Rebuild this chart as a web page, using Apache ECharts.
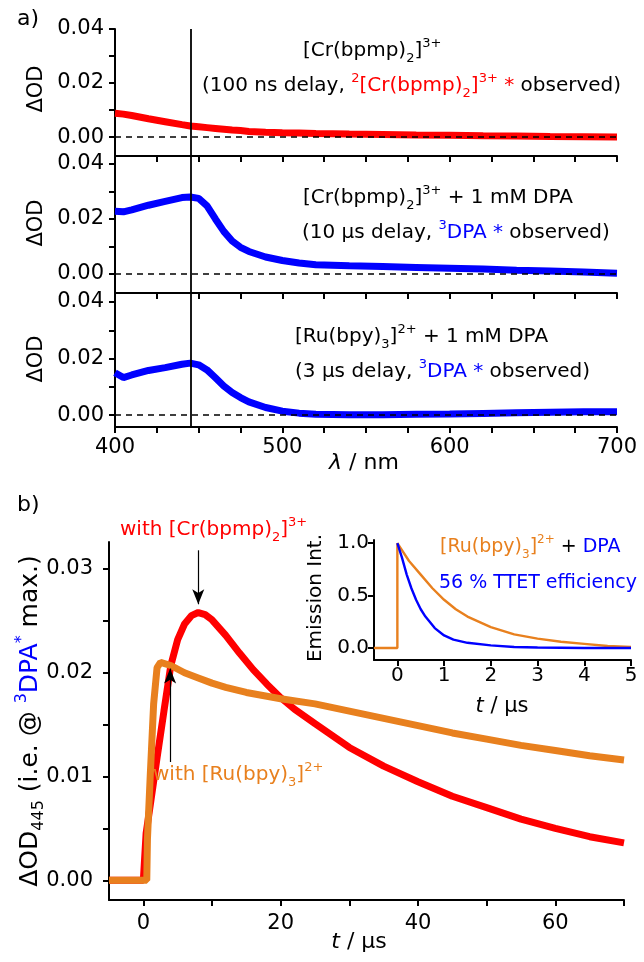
<!DOCTYPE html>
<html>
<head>
<meta charset="utf-8">
<script src="https://cdn.jsdelivr.net/npm/echarts@6/dist/echarts.min.js"></script>
<style>
  html, body { margin: 0; padding: 0; background: #fff; }
  #main { width: 644px; height: 962px; }
</style>
</head>
<body>
<div id="main"></div>
<script>
// ---- data ----
// panel a: transient absorption spectra (wavelength / nm)
const wl = [400, 405, 410, 420, 430, 440, 445, 450, 455, 460, 465, 470, 475, 480, 490, 500, 510, 520, 540, 560, 580, 600, 620, 640, 660, 680, 700];
const odCr = [0.0088, 0.0085, 0.0080, 0.0068, 0.0057, 0.0046, 0.0041, 0.0038, 0.0035, 0.0032, 0.0029, 0.0026, 0.0024, 0.0021, 0.0018, 0.0016, 0.0015, 0.0013, 0.0011, 0.0010, 0.0008, 0.0007, 0.0005, 0.0004, 0.0002, 0.0001, 0.0000];
const odCrDPA = [0.0228, 0.0226, 0.0233, 0.0250, 0.0264, 0.0278, 0.0280, 0.0275, 0.0248, 0.0200, 0.0155, 0.0120, 0.0097, 0.0082, 0.0062, 0.0049, 0.0040, 0.0034, 0.0030, 0.0027, 0.0024, 0.0021, 0.0018, 0.0014, 0.0011, 0.0007, 0.0003];
const odRuDPA = [0.0150, 0.0133, 0.0142, 0.0158, 0.0168, 0.0180, 0.0184, 0.0178, 0.0160, 0.0132, 0.0103, 0.0080, 0.0062, 0.0047, 0.0027, 0.0014, 0.0007, 0.0003, 0.0001, 0.0001, 0.0003, 0.0004, 0.0006, 0.0008, 0.0010, 0.0012, 0.0012];

// panel b: kinetics at 445 nm (t / us)
const tCr = [-5, -2, 0, 0.2, 0.4, 1, 2, 3, 4, 5, 6, 7, 8, 9, 10, 12, 14, 16, 18, 20, 22, 25, 30, 35, 40, 45, 50, 55, 60, 65, 70];
const odTCr = [0, 0, 0, 0, 0.0045, 0.0072, 0.0118, 0.0163, 0.0207, 0.0232, 0.0247, 0.0255, 0.0258, 0.0256, 0.0251, 0.0236, 0.0219, 0.0203, 0.0189, 0.0176, 0.0165, 0.0151, 0.0128, 0.0110, 0.0095, 0.0081, 0.0070, 0.0059, 0.0050, 0.0042, 0.0036];
const tRu = [-5, -2, 0, 0.5, 0.6, 1, 1.5, 2, 2.5, 4, 6, 8, 10, 12, 15, 20, 25, 30, 35, 40, 45, 50, 55, 60, 65, 70];
const odTRu = [0, 0, 0, 0, 0.0040, 0.0100, 0.0170, 0.0205, 0.0210, 0.0207, 0.0200, 0.0195, 0.0190, 0.0186, 0.0181, 0.0175, 0.0170, 0.0163, 0.0156, 0.0149, 0.0142, 0.0136, 0.0130, 0.0125, 0.0120, 0.0116];

// inset: emission decays
const tEmRu = [-0.5, 0, 0, 0.25, 0.5, 0.75, 1, 1.25, 1.5, 2, 2.5, 3, 3.5, 4, 4.5, 5];
const emRu = [0, 0, 1.0, 0.83, 0.70, 0.57, 0.46, 0.37, 0.30, 0.20, 0.13, 0.09, 0.06, 0.04, 0.02, 0.01];
const tEmDPA = [0, 0.1, 0.2, 0.3, 0.4, 0.5, 0.6, 0.8, 1.0, 1.2, 1.5, 2, 2.5, 3, 4, 5];
const emDPA = [1.0, 0.86, 0.70, 0.57, 0.46, 0.37, 0.30, 0.19, 0.12, 0.08, 0.05, 0.025, 0.01, 0.005, 0, 0];

// ticks and labels
const odTicksA = [0, 0.01, 0.02, 0.03, 0.04];
const odLabelsA = [0, 0.02, 0.04];
const wlTicks = [400, 425, 450, 475, 500, 525, 550, 575, 600, 625, 650, 675, 700];
const wlLabels = [400, 500, 600, 700];
const tTicks = [0, 10, 20, 30, 40, 50, 60, 70];
const tLabels = [0, 20, 40, 60];
const odTicksB = [0, 0.005, 0.01, 0.015, 0.02, 0.025, 0.03];
const odLabelsB = [0, 0.01, 0.02, 0.03];
const tInTicks = [0, 1, 2, 3, 4, 5];
const emTicks = [0, 0.5, 1.0];

const FONT = 'DejaVu Sans';
const RED = '#ff0000', BLUE = '#0000ff', ORANGE = '#e8801e';

var chart = echarts.init(document.getElementById('main'));

function zip(xs, ys) {
  return xs.map((x, i) => [x, ys[i]]);
}

// rich styles: n/r/b/o colour, suffix p = superscript, d = subscript, i = italic
function rich(size) {
  const s = Math.round(size * 0.65);
  const out = {};
  [['n', '#000'], ['r', RED], ['b', BLUE], ['o', ORANGE]].forEach(([k, c]) => {
    out[k] = {fontSize: size, fontFamily: FONT, fill: c, color: c, lineHeight: size + 8};
    out[k + 'i'] = {fontSize: size, fontFamily: FONT, fill: c, color: c, fontStyle: 'italic', lineHeight: size + 8};
    out[k + 'p'] = {fontSize: s, fontFamily: FONT, fill: c, color: c, lineHeight: s + 3, verticalAlign: 'top'};
    out[k + 'd'] = {fontSize: s, fontFamily: FONT, fill: c, color: c, lineHeight: s + 3, verticalAlign: 'bottom'};
  });
  return out;
}

function txt(x, y, text, size, align, rotation) {
  return {
    type: 'text', x: x, y: y, rotation: rotation || 0, z: 100, silent: true,
    style: {text: text, rich: rich(size), fontSize: size, fontFamily: FONT, fill: '#000',
      align: align || 'left', verticalAlign: 'middle'}
  };
}

function axis(gridIndex, min, max, ticks, labels, fmt, margin, size) {
  return {
    type: 'value', gridIndex: gridIndex, min: min, max: max,
    axisLine: {show: true, onZero: false, lineStyle: {color: '#000', width: 2}},
    axisTick: {show: true, customValues: ticks, length: 6, lineStyle: {color: '#000', width: 2}},
    axisLabel: {show: labels.length > 0, customValues: labels, formatter: fmt, margin: margin,
      color: '#000', fontFamily: FONT, fontSize: size || 21},
    splitLine: {show: false}
  };
}

const f2 = v => v.toFixed(2);
const f1 = v => v.toFixed(1);
const f0 = v => String(Math.round(v));

// vertical line at 445 nm and dashed zero line of each spectrum
function refLines() {
  return {
    silent: true, symbol: 'none', animation: false,
    label: {show: false},
    data: [
      {xAxis: 445, lineStyle: {color: '#000', width: 1.8, type: 'solid'}},
      {yAxis: 0, lineStyle: {color: '#000', width: 1.6, type: [6, 5]}}
    ]
  };
}

function spec(i, data, color) {
  return {
    type: 'line', xAxisIndex: i, yAxisIndex: i, data: data,
    showSymbol: false, symbol: 'none', silent: true,
    lineStyle: {color: color, width: 7}, markLine: refLines()
  };
}

var option = {
  animation: false,
  backgroundColor: '#fff',
  grid: [
    {left: 115, top: 29, width: 502, height: 127, outerBoundsMode: 'none'},
    {left: 115, top: 156, width: 502, height: 137, outerBoundsMode: 'none'},
    {left: 115, top: 293, width: 502, height: 134, outerBoundsMode: 'none'},
    {left: 109, top: 542, width: 515, height: 358, outerBoundsMode: 'none'},
    {left: 374, top: 540, width: 257, height: 120, outerBoundsMode: 'none'}
  ],
  xAxis: [
    axis(0, 400, 700, wlTicks, [], f0, 10),
    axis(1, 400, 700, wlTicks, [], f0, 10),
    axis(2, 400, 700, wlTicks, wlLabels, f0, 10),
    axis(3, -5, 70, tTicks, tLabels, f0, 13),
    axis(4, -0.5, 5, tInTicks, tInTicks, f0, 6, 20)
  ],
  yAxis: [
    axis(0, -0.0070, 0.040, odTicksA, odLabelsA, f2, 11),
    axis(1, -0.0069, 0.0429, odTicksA, odLabelsA, f2, 11),
    axis(2, -0.0042, 0.0432, odTicksA, odLabelsA, f2, 11),
    axis(3, -0.0019, 0.0326, odTicksB, odLabelsB, f2, 16),
    axis(4, -0.114, 1.03, emTicks, emTicks, f1, 5, 20)
  ],
  series: [
    spec(0, zip(wl, odCr), RED),
    spec(1, zip(wl, odCrDPA), BLUE),
    spec(2, zip(wl, odRuDPA), BLUE),
    {
      type: 'line', xAxisIndex: 3, yAxisIndex: 3, data: zip(tCr, odTCr),
      showSymbol: false, symbol: 'none', silent: true, lineStyle: {color: RED, width: 7}
    },
    {
      type: 'line', xAxisIndex: 3, yAxisIndex: 3, data: zip(tRu, odTRu),
      showSymbol: false, symbol: 'none', silent: true, lineStyle: {color: ORANGE, width: 7},
      markLine: {
        silent: true, animation: false, symbol: ['none', 'arrow'], symbolSize: [9, 15],
        label: {show: false},
        lineStyle: {color: '#000', width: 1.2, type: 'solid'},
        data: [
          [{coord: [8, 0.0318]}, {coord: [8, 0.0266]}],
          [{coord: [3.9, 0.0114]}, {coord: [3.9, 0.0204]}]
        ]
      }
    },
    {
      type: 'line', xAxisIndex: 4, yAxisIndex: 4, data: zip(tEmRu, emRu),
      showSymbol: false, symbol: 'none', silent: true, lineStyle: {color: ORANGE, width: 2.4}
    },
    {
      type: 'line', xAxisIndex: 4, yAxisIndex: 4, data: zip(tEmDPA, emDPA),
      showSymbol: false, symbol: 'none', silent: true, lineStyle: {color: BLUE, width: 2.4}
    }
  ],
  graphic: [
    txt(17, 19, '{n|a)}', 22),
    txt(17, 505, '{n|b)}', 22),
    // panel a
    txt(37, 89, '{n|ΔOD}', 21, 'center', Math.PI / 2),
    txt(37, 223, '{n|ΔOD}', 21, 'center', Math.PI / 2),
    txt(37, 359, '{n|ΔOD}', 21, 'center', Math.PI / 2),
    txt(303, 51, '{n|[Cr(bpmp)}{nd|2}{n|]}{np|3+}', 20),
    txt(202, 86, '{n|(100 ns delay, }{rp|2}{r|[Cr(bpmp)}{rd|2}{r|]}{rp|3+}{r| *}{n| observed)}', 20),
    txt(303, 198, '{n|[Cr(bpmp)}{nd|2}{n|]}{np|3+}{n| + 1 mM DPA}', 20),
    txt(302, 233, '{n|(10 μs delay, }{bp|3}{b|DPA *}{n| observed)}', 20),
    txt(295, 337, '{n|[Ru(bpy)}{nd|3}{n|]}{np|2+}{n| + 1 mM DPA}', 20),
    txt(295, 372, '{n|(3 μs delay, }{bp|3}{b|DPA *}{n| observed)}', 20),
    txt(364, 463, '{ni|λ}{n| / nm}', 22, 'center'),
    // panel b
    txt(30, 721, '{n|ΔOD}{nd|445}{n| (i.e. @ }{bp|3}{b|DPA}{bp|*}{n| max.)}', 25, 'center', Math.PI / 2),
    txt(359, 942, '{ni|t}{n| / μs}', 22, 'center'),
    txt(120, 530, '{r|with [Cr(bpmp)}{rd|2}{r|]}{rp|3+}', 20),
    txt(153, 775, '{o|with [Ru(bpy)}{od|3}{o|]}{op|2+}', 20),
    // inset
    txt(316, 598, '{n|Emission Int.}', 20, 'center', Math.PI / 2),
    txt(502, 707, '{ni|t}{n| / μs}', 21, 'center'),
    txt(440, 547, '{o|[Ru(bpy)}{od|3}{o|]}{op|2+}{n| + }{b|DPA}', 19),
    txt(439, 583, '{b|56 % TTET efficiency}', 19)
  ]
};

chart.setOption(option);
</script>
</body>
</html>
